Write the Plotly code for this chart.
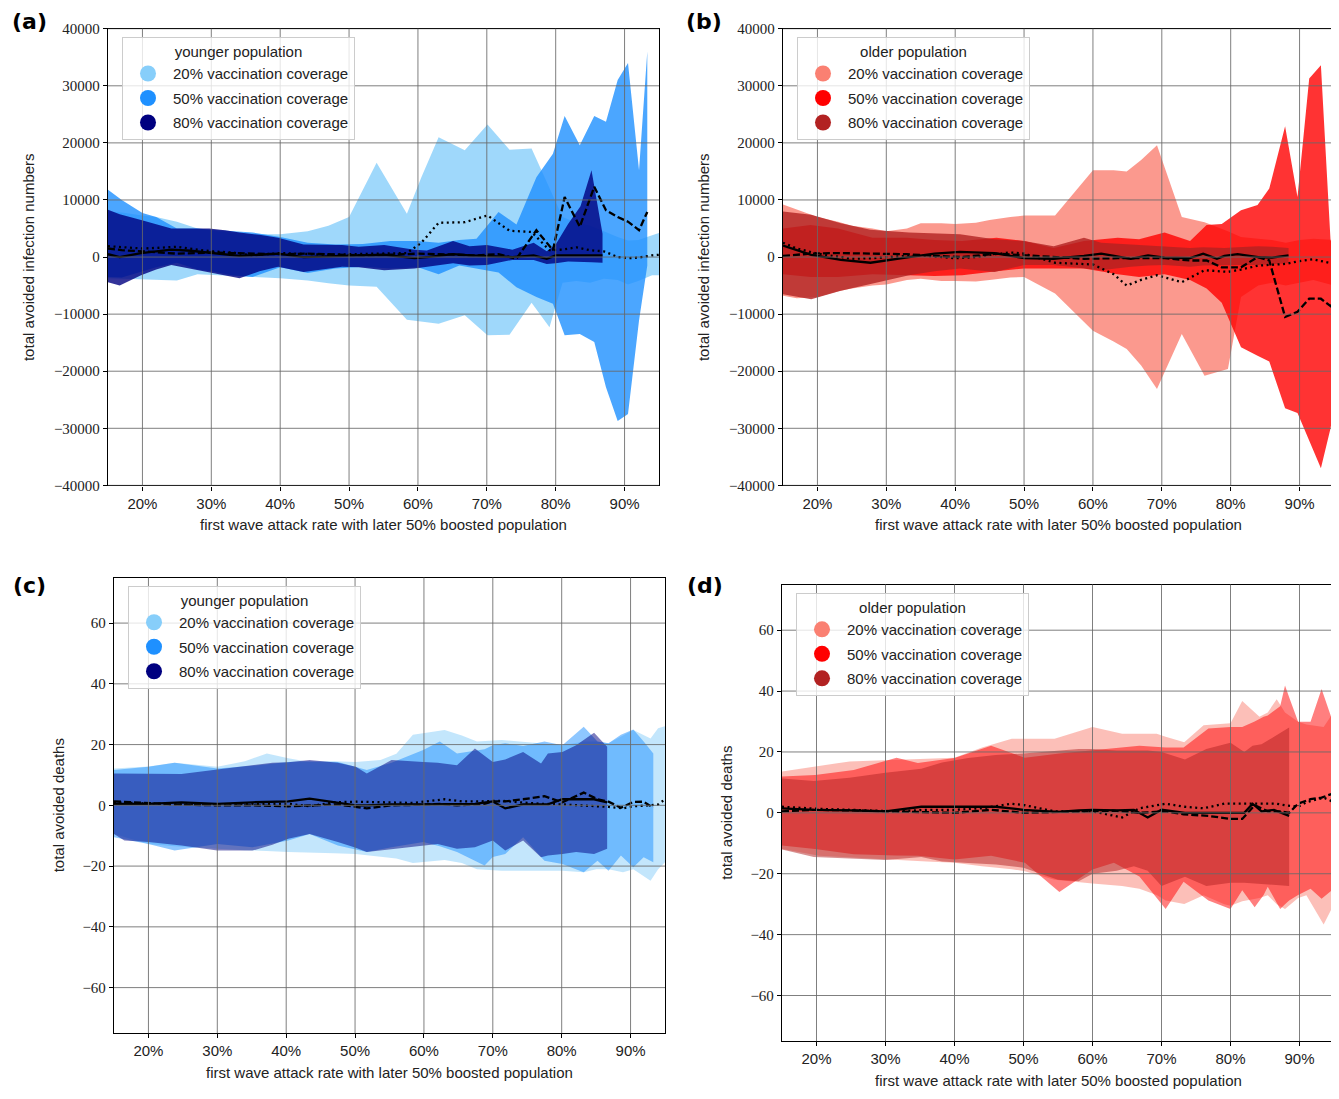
import plotly.graph_objects as go

# page is 1339x1099 with an 8px body margin; the figure is sized so nothing scrolls
PAGE_MARGIN = 8
W, H = 1339 - PAGE_MARGIN, 1099 - 2 * PAGE_MARGIN
# measured mapping of figure pixels to the photographed page (vertical)
Y_OFF, Y_SCALE = 16.3, 0.9838

# ---- ticks / labels ----
X_TICKS = [20, 30, 40, 50, 60, 70, 80, 90]
X_TICK_TEXT = ['20%', '30%', '40%', '50%', '60%', '70%', '80%', '90%']
INF_TICKS = [-40000, -30000, -20000, -10000, 0, 10000, 20000, 30000, 40000]
INF_TICK_TEXT = ['\u221240000', '\u221230000', '\u221220000', '\u221210000', '0',
                 '10000', '20000', '30000', '40000']
DEATH_TICKS = [-60, -40, -20, 0, 20, 40, 60]
DEATH_TICK_TEXT = ['\u221260', '\u221240', '\u221220', '0', '20', '40', '60']
COVERAGE_LABELS = ['20% vaccination coverage', '50% vaccination coverage',
                   '80% vaccination coverage']

# ---- (a) younger population, infections ----
A_X20 = [15, 17, 20, 22, 25, 28, 30, 33, 36, 40, 44, 47, 50, 54, 58.4, 60.5, 63, 66.8, 70.1, 73.3,
         76.5, 79.1, 81, 83, 85, 87, 89, 90.5, 92, 94, 95]
A_HI20 = [8000, 7800, 7300, 7000, 6200, 5000, 4600, 4200, 4000, 4000, 4500, 5500, 7000, 16500, 7600,
          14000, 21000, 18700, 23200, 18800, 19000, 12000, 7000, 6000, 5500, 4500, 3500, 2900, 3000,
          3800, 4200]
A_LO20 = [-3700, -3800, -3900, -4000, -4100, -3000, -3100, -3300, -3500, -3700, -4100, -4600, -5000,
          -5200, -11000, -11300, -11700, -10200, -13700, -13600, -8000, -12300, -4500, -4200, -4500,
          -3800, -4000, -4800, -4200, -3200, -3200]
A_MED20 = [1900, 1700, 1500, 1600, 1800, 1300, 1000, 800, 300, 700, 500, 400, 500, 600, 700, 2500,
           6000, 6100, 7300, 4600, 4400, 1200, 1300, 1700, 1200, 1000, 0, -200, -100, 300, 400]

A_X50 = [15, 17, 20, 22, 25, 28, 30, 33, 36, 40, 44, 48, 52, 56, 60, 63, 66, 68.5, 71.7, 74.3, 77.2,
         79.6, 81.3, 83.5, 85.6, 87.3, 89, 90.5, 92.1, 93.3]
A_HI50 = [11800, 10000, 7700, 7000, 5000, 5000, 4800, 4500, 4300, 3500, 2500, 2200, 2300, 2800, 2800,
          2500, 3000, 3200, 7900, 5700, 14000, 18100, 24700, 19600, 24700, 23700, 31000, 34000, 15200,
          36000]
A_LO50 = [-3500, -3600, -2500, -1800, -1000, -2200, -2500, -3200, -3500, -1800, -2800, -2000, -1700,
          -2000, -1800, -3000, -1500, -2000, -2700, -5300, -7000, -8200, -13700, -13500, -14900,
          -22800, -28700, -27500, -11100, -1500]
A_MED50 = [1500, 1200, 1000, 800, 600, 700, 800, 700, 600, 500, 600, 400, 300, 400, 600, 500, 400,
           300, 500, -300, 4700, 1200, 10500, 5300, 12300, 8200, 7000, 6200, 4700, 7900]

A_X80 = [15, 16.7, 19.8, 22, 24.2, 27, 29.7, 32, 34.1, 37, 39.7, 43.4, 46, 49, 51.4, 55.1, 59.5, 61.3,
         65.1, 67.5, 70, 73.7, 76.8, 78.7, 80, 81.8, 83.6, 85.2, 86.8]
A_HI80 = [8300, 7500, 6500, 5800, 5000, 5000, 5000, 4700, 4300, 3900, 3400, 2200, 2200, 2100, 1800,
          2100, 1300, 1150, 2800, 1900, 2100, 1300, 2500, 1000, 2200, 5800, 8900, 15200, 4100]
A_LO80 = [-4400, -5000, -3200, -2200, -1400, -2000, -2600, -3200, -3700, -2500, -1700, -2600, -2200,
          -1700, -1800, -2300, -2000, -1800, -1100, -1500, -1400, -500, -500, -1200, -1100, -800,
          -800, -900, -1000]
A_MED80 = [500, 0, 700, 1000, 1300, 1100, 800, 500, 200, 400, 600, 0, 100, 300, 300, 400, -200, 0,
           500, 300, 200, 0, 300, -300, 300, 300, 300, 300, 300]

# ---- (b) older population, infections ----
B_X20 = [15, 17, 20, 23, 25, 28, 30, 33, 35, 38, 40, 43, 45, 48, 50, 54.5, 60, 63, 64.9, 67, 69.3,
         72.9, 76.2, 79.6, 81.5, 84, 86, 88, 90, 92, 95]
B_HI20 = [9200, 8300, 7000, 6200, 5500, 5000, 4500, 5000, 5900, 5900, 5800, 6000, 6500, 7000, 7300,
          7300, 15200, 15200, 15000, 17000, 19600, 7000, 6100, 4500, 3500, 3200, 3000, 2500, 3000,
          3200, 3000]
B_LO20 = [-6800, -7200, -7000, -6000, -5500, -5000, -4800, -4000, -3800, -4200, -4200, -4300, -4000,
          -3600, -3500, -6400, -12900, -14800, -16100, -19000, -23100, -13500, -20800, -19600, -7000,
          -5000, -4500, -5000, -4500, -4000, -5000]
B_MED20 = [2500, 1500, 600, 0, -300, -200, 0, 200, 300, 0, -200, 0, 400, 800, 600, -1000, -1300,
           -3000, -5000, -4000, -3200, -4400, -2300, -2600, -2200, -1500, -1300, -1200, -700, -400,
           -1200]

B_X50 = [15, 19, 23, 28, 33, 37, 41, 46, 50, 54.3, 58.7, 63.6, 66.7, 70.4, 74.1, 76.5, 78.7, 81.5,
         83.9, 85.6, 87.9, 89.7, 91.4, 93.1, 94.5, 95]
B_HI50 = [5000, 5600, 5000, 3400, 3400, 3000, 2800, 3400, 2800, 1600, 2800, 3400, 3100, 4300, 2800,
          5600, 5800, 8200, 9100, 12000, 22900, 10500, 31300, 33600, 2900, 2500]
B_LO50 = [-3000, -3500, -3500, -3000, -3200, -3300, -3200, -2500, -2000, -2000, -2000, -3000, -3500,
          -3000, -4000, -5500, -8000, -15800, -17300, -18300, -26500, -27300, -32000, -37000, -30000,
          -26000]
B_MED50 = [200, 600, 700, 600, 500, 200, 0, 600, 300, -100, -300, -200, -200, -200, -600, -600,
           -1800, -1800, 0, -600, -10500, -9600, -7300, -7300, -8600, -7600]

B_X80 = [15, 19.1, 23.4, 27.7, 33.3, 37, 40.7, 45.7, 50, 54.3, 58.7, 61.2, 65.5, 68, 70.4, 72, 74.1,
         76, 78, 79.1, 81, 84, 86, 88.4]
B_HI80 = [8000, 7400, 5900, 4800, 4300, 4100, 4000, 3100, 2800, 1900, 3400, 2500, 2200, 2000, 1900,
          1800, 1600, 1700, 1600, 1600, 1700, 1900, 1800, 1600]
B_LO80 = [-6500, -7400, -5900, -4700, -3200, -2500, -2000, -2600, -1400, -1400, -2000, -2300, -1700,
          -1500, -1400, -1500, -1700, -1500, -1400, -1400, -1400, -1400, -1300, -1100]
B_MED80 = [2000, 400, -500, -1000, 0, 600, 900, 700, -200, -300, 200, 600, -300, 300, -100, -200,
           -200, 600, -300, 200, 500, 0, -100, 300]

# ---- (c) younger population, deaths ----
C_X20 = [15, 20, 23.8, 30, 34, 37.2, 40.3, 43.4, 47, 50.1, 53.7, 56, 58.4, 63, 65.5, 67.7, 71.3, 74,
         77, 80.1, 83.2, 85, 86.8, 88.9, 90.4, 92.9, 94, 95]
C_HI20 = [12.1, 12.8, 14, 12.7, 14.5, 17.1, 15.5, 14.3, 14.5, 14.3, 14.9, 17, 23.2, 24.8, 23, 21,
          21.5, 21, 20.4, 19.8, 21, 21, 20.4, 23, 24.8, 22, 25.4, 26]
C_LO20 = [-9.4, -12.7, -13.5, -14.3, -14.8, -15, -15.4, -15.6, -15.8, -16, -17, -17.5, -19, -18, -19,
          -21, -21.5, -21.5, -21.5, -21.5, -22, -21, -21, -22, -21, -24.8, -21, -18.7]
C_MED20 = [1, 0.5, 0.3, 0.3, 0.3, 0.5, 0.5, -0.3, 1, 1.2, 1, 0.8, 0.8, 2, 1.3, 1.3, 1.5, 1, 0.5, 0.3,
           0, -0.3, -0.5, -1, -0.3, 0, 0.3, 2]

C_X50 = [15, 20, 23.8, 30, 35.1, 40.3, 43.4, 47.5, 51.7, 55.3, 59.9, 62.3, 64.8, 68.8, 70, 71.8, 74.4,
         77.5, 80.1, 83.2, 85.2, 86.8, 88.6, 90.4, 91.9, 93.3]
C_HI50 = [11.6, 12.7, 14, 12.1, 13, 14.3, 14.5, 14.3, 11.6, 14, 18.2, 21, 17.1, 18.5, 19.8, 20.4,
          19.5, 21, 19.8, 25.9, 21, 20.4, 23.2, 25, 21, 17.1]
C_LO50 = [-10.5, -12.7, -14.9, -12.7, -13.8, -11.6, -9.4, -13.2, -15.4, -13.8, -12.1, -13.5, -15.4,
          -19.8, -17, -16, -10.5, -18.2, -19.3, -22, -18.2, -21.5, -16.5, -20.4, -17.1, -18.7]
C_MED50 = [1.3, 0.6, 0.3, 0, 0, -0.3, 0, 0.3, -1, 0, 0.2, 0.5, 0, 0.5, 1.3, 1.3, 2, 3, 1, 4.2, 2, 1.2,
           -0.8, 1.1, 1.2, -0.8]

C_X80 = [15, 16.5, 20, 24.8, 30, 35.1, 38, 40.3, 43.4, 47.5, 50.1, 51.7, 55.3, 59.9, 62, 64.8, 67.4,
         70, 71.8, 74.4, 77, 78, 80.1, 82.1, 84.7, 86.6]
C_HI80 = [10.5, 10.5, 10.5, 10.3, 11.8, 13.2, 14, 14.2, 14.9, 14, 12.7, 10.5, 14.9, 14.3, 14, 13.2,
          18.7, 14.3, 15.1, 17.6, 13.8, 17.1, 17.6, 19.8, 23.9, 19.3]
C_LO80 = [-9.4, -11.6, -12.1, -13.2, -14.9, -14.9, -13, -11, -9.4, -12.1, -14, -15.4, -14.3, -13.2,
          -12.7, -14.3, -13.8, -11.6, -14.9, -11.6, -17.1, -16.5, -16, -15.4, -16, -14.3]
C_MED80 = [0.5, 0.5, 0.5, 1, 0.5, 1, 1.2, 1.3, 2.2, 1, 0, 0, 0.3, 0.3, 0.3, 0.3, 0.5, 1.3, -1, 0.3,
           0.3, 0.3, 2, 2, 2, 1]

# ---- (d) older population, deaths ----
D_X20 = [15, 20.4, 24.8, 29.8, 31.6, 36, 40, 44, 48.3, 50.2, 54.5, 60, 64.3, 66.8, 69.3, 70.6, 73.3,
         76.1, 79.1, 80, 81.7, 84.2, 85.4, 86.7, 87.9, 89.8, 91, 93.5, 95]
D_HI20 = [13.6, 15.3, 16.9, 17.3, 17.5, 17.8, 18.1, 21.5, 24.3, 24.3, 24.3, 28.2, 26, 26, 26, 25,
          23.2, 28.8, 29.4, 29.4, 36.7, 31.6, 33, 37.3, 33, 29.9, 29, 28.2, 33.3]
D_LO20 = [-11.9, -14.1, -14.6, -15.3, -15.5, -16, -16.4, -17.5, -18.5, -19.2, -22, -23.2, -24, -24.9,
          -27, -28.8, -29.9, -27.1, -30, -30.5, -29, -28, -27.1, -30, -31.6, -28, -27.1, -36.7, -29.9]
D_MED20 = [2, 1.3, 1, 0.5, 0.5, 1, 1, 1.5, 3, 2.5, 0.5, 0.5, -1.5, 1.5, 2.5, 3, 2, 1.5, 3, 3, 3, 3,
           3, 3, 2.5, 2, 3.5, 5, 3.5]

D_X50 = [15, 19.8, 25.4, 31.6, 34.7, 40, 45.3, 50.2, 55.2, 60, 63.1, 66.8, 70.6, 73.2, 76.8, 80,
         81.7, 83.5, 84.8, 85.4, 87.2, 87.9, 88.5, 89.8, 91.6, 93.2, 95]
D_HI50 = [11.9, 12.4, 14.1, 18.1, 16.4, 18, 22, 18.1, 19.5, 20.5, 21, 22, 21.5, 21.5, 27.7, 28.2,
          28.2, 30, 31.6, 32, 35, 41.8, 38, 29.9, 29.9, 40.7, 28.8]
D_LO50 = [-10.7, -11.9, -13.6, -14, -14.1, -15.3, -14.1, -16.4, -26, -18.6, -16.4, -20.9, -31.6,
          -22.6, -28.8, -31.6, -25.4, -31, -27, -24.3, -31.6, -30, -28.8, -27, -24.9, -28.2, -24.9]
D_MED50 = [0.5, 1, 0.8, 0.5, 0.3, 0, 1, 0, 0.3, 0.5, 0.7, 0, 0.5, -0.5, -1, -2, -2, 2.5, 1, 0.5, 0.5,
           0.3, 0, 3, 4.5, 5, 6.5]

D_X80 = [15, 19.6, 24.8, 30, 35.2, 38.2, 42, 46, 50, 55, 58, 60, 63.5, 66, 68, 70, 73.4, 76.5, 80,
         82, 83.2, 84.5, 86.3, 88.5]
D_HI80 = [11.3, 10.5, 11.5, 13.2, 14.5, 16.5, 18, 19, 19.5, 20.5, 21, 21, 20.5, 20.5, 20.5, 20, 17.5,
          21, 23, 20, 22, 22.5, 25, 28]
D_LO80 = [-12, -14.5, -15, -15.5, -14.5, -16, -16.5, -17, -18, -22, -22.5, -20, -19, -17.5, -19, -24,
          -21, -24, -23, -23, -23.2, -23.5, -23.7, -24]
D_MED80 = [1.5, 1, 0.8, 0.5, 2, 2, 2, 2, 1, 0.3, 0.8, 1, 0.8, 1, -1.5, 1, 0, 0, 0, 0, 3, 0.5, 1, -1]

BLUES = [(135, 206, 250), (30, 144, 255), (0, 0, 128)]     # lightskyblue, dodgerblue, navy
REDS = [(250, 128, 114), (255, 0, 0), (178, 34, 34)]       # salmon, red, firebrick
DASHES = ['2px,3.5px', '7px,3px', 'solid']                  # dotted / dashed / solid medians


def rgba(c, a):
    return 'rgba(%d,%d,%d,%.2f)' % (c[0], c[1], c[2], a)


def px(x):
    # page pixel -> paper x
    return (x - PAGE_MARGIN) / W


def py(y):
    # page pixel -> paper y
    return 1 - (y - Y_OFF) / Y_SCALE / H


# pixel boxes (left, right, top, bottom) of the four axes, in page pixels
panels = [
    dict(label='(a)', xa='x', ya='y', lg='legend', box=(108, 659, 29, 485),
         series=[(A_X20, A_LO20, A_HI20, A_MED20), (A_X50, A_LO50, A_HI50, A_MED50),
                 (A_X80, A_LO80, A_HI80, A_MED80)],
         colors=BLUES, alpha=0.8, group='younger population',
         ytitle='total avoided infection numbers', yticks=(INF_TICKS, INF_TICK_TEXT),
         yrange=[-40000, 40000], lab_pos=(29, 22), ytitle_x=28, leg=(122, 37)),
    dict(label='(b)', xa='x2', ya='y2', lg='legend2', box=(783, 1334, 29, 485),
         series=[(B_X20, B_LO20, B_HI20, B_MED20), (B_X50, B_LO50, B_HI50, B_MED50),
                 (B_X80, B_LO80, B_HI80, B_MED80)],
         colors=REDS, alpha=0.8, group='older population',
         ytitle='total avoided infection numbers', yticks=(INF_TICKS, INF_TICK_TEXT),
         yrange=[-40000, 40000], lab_pos=(704, 22), ytitle_x=703, leg=(797, 37)),
    dict(label='(c)', xa='x3', ya='y3', lg='legend3', box=(114, 665, 577, 1032),
         series=[(C_X20, C_LO20, C_HI20, C_MED20), (C_X50, C_LO50, C_HI50, C_MED50),
                 (C_X80, C_LO80, C_HI80, C_MED80)],
         colors=BLUES, alpha=0.5, group='younger population',
         ytitle='total avoided deaths', yticks=(DEATH_TICKS, DEATH_TICK_TEXT),
         yrange=[-75, 75], lab_pos=(29, 585), ytitle_x=58, leg=(128, 585)),
    dict(label='(d)', xa='x4', ya='y4', lg='legend4', box=(782, 1334, 584, 1040),
         series=[(D_X20, D_LO20, D_HI20, D_MED20), (D_X50, D_LO50, D_HI50, D_MED50),
                 (D_X80, D_LO80, D_HI80, D_MED80)],
         colors=REDS, alpha=0.5, group='older population',
         ytitle='total avoided deaths', yticks=(DEATH_TICKS, DEATH_TICK_TEXT),
         yrange=[-75, 75], lab_pos=(705, 585), ytitle_x=727, leg=(796, 592)),
]

fig = go.Figure()
shapes = []
annotations = []
layout = dict(width=W, height=H, margin=dict(l=0, r=0, t=0, b=0),
              plot_bgcolor='white', paper_bgcolor='white', showlegend=True)

SANS = 'Liberation Sans'
SERIF = 'Liberation Serif'
GRID = 'rgba(105,105,105,0.85)'

for p in panels:
    xa, ya = p['xa'], p['ya']
    # bands first, then medians on top
    for (x, lo, hi, med), c in zip(p['series'], p['colors']):
        fig.add_trace(go.Scatter(
            x=list(x) + list(x)[::-1], y=list(hi) + list(lo)[::-1],
            fill='toself', fillcolor=rgba(c, p['alpha']), mode='lines',
            line=dict(width=0), hoverinfo='skip', showlegend=False,
            xaxis=xa, yaxis=ya))
    for (x, lo, hi, med), d in zip(p['series'], DASHES):
        fig.add_trace(go.Scatter(
            x=x, y=med, mode='lines', line=dict(color='black', width=2.3, dash=d),
            showlegend=False, xaxis=xa, yaxis=ya))
    # legend entries (circle markers)
    for lab, c in zip(COVERAGE_LABELS, p['colors']):
        fig.add_trace(go.Scatter(
            x=[None], y=[None], mode='markers', name=lab,
            marker=dict(size=16, color=rgba(c, 1)), legend=p['lg'],
            legendgroup=p['lg'] + lab, xaxis=xa, yaxis=ya))

    l, r, t, b = p['box']
    xkey = 'xaxis' + xa[1:]
    ykey = 'yaxis' + ya[1:]
    layout[xkey] = dict(domain=[px(l), px(r)], range=[15, 95], anchor=ya,
                        tickvals=X_TICKS, ticktext=X_TICK_TEXT, showgrid=False, zeroline=False,
                        showline=True, mirror=True, linecolor='black', linewidth=1.3,
                        ticks='outside', ticklen=4, tickcolor='black',
                        tickfont=dict(family=SANS, size=15, color='#222'))
    layout[ykey] = dict(domain=[py(b), py(t)], range=p['yrange'], anchor=xa,
                        tickvals=p['yticks'][0], ticktext=p['yticks'][1], showgrid=False,
                        zeroline=False, showline=True, mirror=True, linecolor='black',
                        linewidth=1.3, ticks='outside', ticklen=4, tickcolor='black',
                        tickfont=dict(family=SERIF, size=15, color='#222'))

    # grid drawn over the bands, like matplotlib's default
    for tv in X_TICKS:
        shapes.append(dict(type='line', xref=xa, yref=ya + ' domain', x0=tv, x1=tv, y0=0, y1=1,
                           line=dict(color=GRID, width=1), layer='above'))
    for tv in p['yticks'][0]:
        shapes.append(dict(type='line', xref=xa + ' domain', yref=ya, x0=0, x1=1, y0=tv, y1=tv,
                           line=dict(color=GRID, width=1), layer='above'))

    # panel letter and axis titles
    annotations.append(dict(text='<b>' + p['label'] + '</b>', xref='paper', yref='paper',
                            x=px(p['lab_pos'][0]), y=py(p['lab_pos'][1]),
                            showarrow=False, xanchor='center', yanchor='middle',
                            font=dict(family='DejaVu Sans', size=22, color='black')))
    annotations.append(dict(text=p['ytitle'], xref='paper', yref='paper',
                            x=px(p['ytitle_x']), y=py((t + b) / 2), textangle=-90,
                            showarrow=False, xanchor='center', yanchor='middle',
                            font=dict(family=SANS, size=15, color='#222')))
    annotations.append(dict(text='first wave attack rate with later 50% boosted population',
                            xref='paper', yref='paper', x=px((l + r) / 2), y=py(b + 39),
                            showarrow=False, xanchor='center', yanchor='middle',
                            font=dict(family=SANS, size=15, color='#222')))

    layout[p['lg']] = dict(x=px(p['leg'][0]), y=py(p['leg'][1]), xanchor='left',
                           yanchor='top', bgcolor='rgba(255,255,255,0.8)',
                           bordercolor='#cccccc', borderwidth=1,
                           font=dict(family=SANS, size=15, color='#222'),
                           title=dict(text=p['group'], side='top center',
                                      font=dict(family=SANS, size=15, color='#222')),
                           itemsizing='trace', itemwidth=40, traceorder='grouped',
                           tracegroupgap=2)

layout['shapes'] = shapes
layout['annotations'] = annotations
fig.update_layout(**layout)

fig.write_html("out.html")
